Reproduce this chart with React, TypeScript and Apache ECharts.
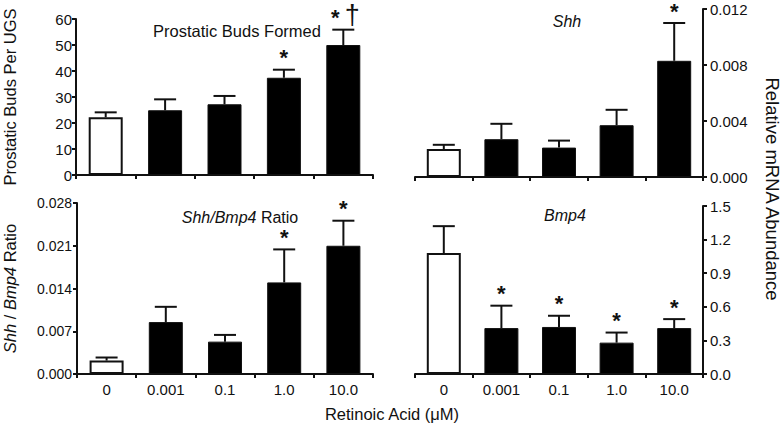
import React, { useEffect, useRef } from "react";
import * as echarts from "echarts";

const categories = ["0", "0.001", "0.1", "1.0", "10.0"];

const budsMean = [22.2, 24.9, 27.2, 37.4, 50.0];
const budsSem = [1.9, 4.2, 3.2, 3.1, 5.9];
const budsSig = ["", "", "", "*", "*†"];

const shhMean = [0.002, 0.0027, 0.0021, 0.0037, 0.0083];
const shhSem = [0.0003, 0.0011, 0.0005, 0.0011, 0.0027];
const shhSig = ["", "", "", "", "*"];

const ratioMean = [0.0022, 0.0085, 0.0053, 0.015, 0.021];
const ratioSem = [0.0005, 0.0025, 0.0011, 0.0054, 0.0041];
const ratioSig = ["", "", "", "*", "*"];

const bmp4Mean = [1.08, 0.41, 0.42, 0.28, 0.41];
const bmp4Sem = [0.24, 0.2, 0.1, 0.09, 0.08];
const bmp4Sig = ["", "*", "*", "*", "*"];

const yTicks = [
  { min: 0, max: 60, interval: 10, digits: 0 },
  { min: 0, max: 0.012, interval: 0.004, digits: 3 },
  { min: 0, max: 0.028, interval: 0.007, digits: 3 },
  { min: 0, max: 1.5, interval: 0.3, digits: 1 },
];

const FONT = "'Liberation Sans', Arial, Helvetica, sans-serif";
const INK = "#111";

export default function App() {
  const ref = useRef<HTMLDivElement>(null);
  useEffect(() => {
    if (!ref.current) return;
    const chart = echarts.init(ref.current, undefined, { renderer: "svg" });
    const grids = [
      { left: 74, top: 19, width: 299, height: 156 },
      { left: 415, top: 9, width: 288, height: 168 },
      { left: 74, top: 203, width: 299, height: 171 },
      { left: 415, top: 206, width: 288, height: 168 },
    ];
    const panels = [
      { mean: budsMean, sem: budsSem, sig: budsSig },
      { mean: shhMean, sem: shhSem, sig: shhSig },
      { mean: ratioMean, sem: ratioSem, sig: ratioSig },
      { mean: bmp4Mean, sem: bmp4Sem, sig: bmp4Sig },
    ];
    const axisLine = { show: true, lineStyle: { color: INK, width: 2 } };
    const labelFont = [15, 15, 14, 15];
    const labelMargin = [4, 7, 5, 7];
    const xAxis = grids.map((_, i) => ({
      type: "category",
      gridIndex: i,
      data: categories,
      axisLine,
      axisTick: { show: true, length: 4, lineStyle: { color: INK, width: 2 } },
      axisLabel: {
        show: i >= 2,
        color: INK,
        fontSize: 15,
        fontFamily: FONT,
        margin: 8,
      },
    }));
    const yAxis = grids.map((_, i) => ({
      type: "value",
      gridIndex: i,
      position: i % 2 === 0 ? "left" : "right",
      min: yTicks[i].min,
      max: yTicks[i].max,
      interval: yTicks[i].interval,
      splitLine: { show: false },
      axisLine,
      axisTick: { show: true, length: 4, lineStyle: { color: INK, width: 2 } },
      axisLabel: {
        color: INK,
        fontSize: labelFont[i],
        fontFamily: FONT,
        margin: labelMargin[i],
        formatter: (v: number) => v.toFixed(yTicks[i].digits),
      },
      name:
        i === 0
          ? "Prostatic Buds Per UGS"
          : i === 2
          ? "{i|Shh} / {i|Bmp4} Ratio"
          : "",
      nameLocation: "middle",
      nameGap: i === 0 ? 58 : 59,
      nameTextStyle: {
        color: INK,
        fontSize: 16.5,
        fontFamily: FONT,
        rich: { i: { fontStyle: "italic", fontSize: 16.5, fontFamily: FONT, color: INK } },
      },
    }));

    const series: any[] = [];
    panels.forEach((p, i) => {
      series.push({
        type: "bar",
        xAxisIndex: i,
        yAxisIndex: i,
        barWidth: 34,
        data: p.mean.map((v, k) => ({
          value: v,
          itemStyle:
            k === 0
              ? { color: "#fff", borderColor: INK, borderWidth: 2 }
              : { color: "#000", borderColor: INK, borderWidth: 1 },
        })),
      });
      series.push({
        type: "custom",
        xAxisIndex: i,
        yAxisIndex: i,
        z: 5,
        data: p.mean.map((v, k) => [k, v, v + p.sem[k]]),
        renderItem: (params: any, api: any) => {
          const k = api.value(0);
          const p0 = api.coord([k, api.value(1)]);
          const p1 = api.coord([k, api.value(2)]);
          const half = 11;
          const children: any[] = [
            {
              type: "line",
              shape: { x1: p0[0], y1: p0[1], x2: p1[0], y2: p1[1] },
              style: { stroke: INK, lineWidth: 2 },
            },
            {
              type: "line",
              shape: { x1: p0[0] - half, y1: p1[1], x2: p0[0] + half, y2: p1[1] },
              style: { stroke: INK, lineWidth: 2 },
            },
          ];
          const s = p.sig[params.dataIndex];
          if (s) {
            const hasDagger = s.indexOf("†") >= 0;
            children.push({
              type: "text",
              x: p0[0] - (hasDagger ? 8 : 0),
              y: p1[1] - 1,
              style: {
                text: "*",
                fill: INK,
                fontSize: 22,
                fontWeight: "bold",
                fontFamily: FONT,
                align: "center",
                verticalAlign: "bottom",
              },
            });
            if (hasDagger) {
              children.push({
                type: "text",
                x: p0[0] + 9,
                y: p1[1] - 1,
                style: {
                  text: "†",
                  fill: INK,
                  fontSize: 27,
                  fontFamily: FONT,
                  align: "center",
                  verticalAlign: "bottom",
                },
              });
            }
          }
          return { type: "group", children };
        },
      });
    });

    const option: any = {
      animation: false,
      backgroundColor: "#fff",
      grid: grids,
      xAxis,
      yAxis,
      series,
      graphic: [
        {
          type: "text",
          x: 237,
          y: 31,
          style: {
            text: "Prostatic Buds Formed",
            fontSize: 16.5,
            fontFamily: FONT,
            fill: INK,
            align: "center",
            verticalAlign: "middle",
          },
        },
        {
          type: "text",
          x: 567,
          y: 21,
          style: {
            text: "Shh",
            fontSize: 16,
            fontStyle: "italic",
            fontFamily: FONT,
            fill: INK,
            align: "center",
            verticalAlign: "middle",
          },
        },
        {
          type: "text",
          x: 240,
          y: 217,
          style: {
            text: "{i|Shh/Bmp4} Ratio",
            fontSize: 16,
            fontFamily: FONT,
            fill: INK,
            align: "center",
            verticalAlign: "middle",
            rich: { i: { fontStyle: "italic", fontSize: 16, fontFamily: FONT, fill: INK } },
          },
        },
        {
          type: "text",
          x: 565,
          y: 215,
          style: {
            text: "Bmp4",
            fontSize: 16,
            fontStyle: "italic",
            fontFamily: FONT,
            fill: INK,
            align: "center",
            verticalAlign: "middle",
          },
        },
        {
          type: "text",
          x: 772,
          y: 189,
          rotation: -Math.PI / 2,
          style: {
            text: "Relative mRNA Abundance",
            fontSize: 18.5,
            fontFamily: FONT,
            fill: INK,
            align: "center",
            verticalAlign: "middle",
          },
        },
        {
          type: "text",
          x: 392,
          y: 414,
          style: {
            text: "Retinoic Acid (μM)",
            fontSize: 16.5,
            fontFamily: FONT,
            fill: INK,
            align: "center",
            verticalAlign: "middle",
          },
        },
      ],
    };
    chart.setOption(option);
    return () => chart.dispose();
  }, []);
  return (
    <div
      ref={ref}
      style={{ position: "fixed", left: 0, top: 0, width: 784, height: 431, background: "#fff" }}
    />
  );
}
